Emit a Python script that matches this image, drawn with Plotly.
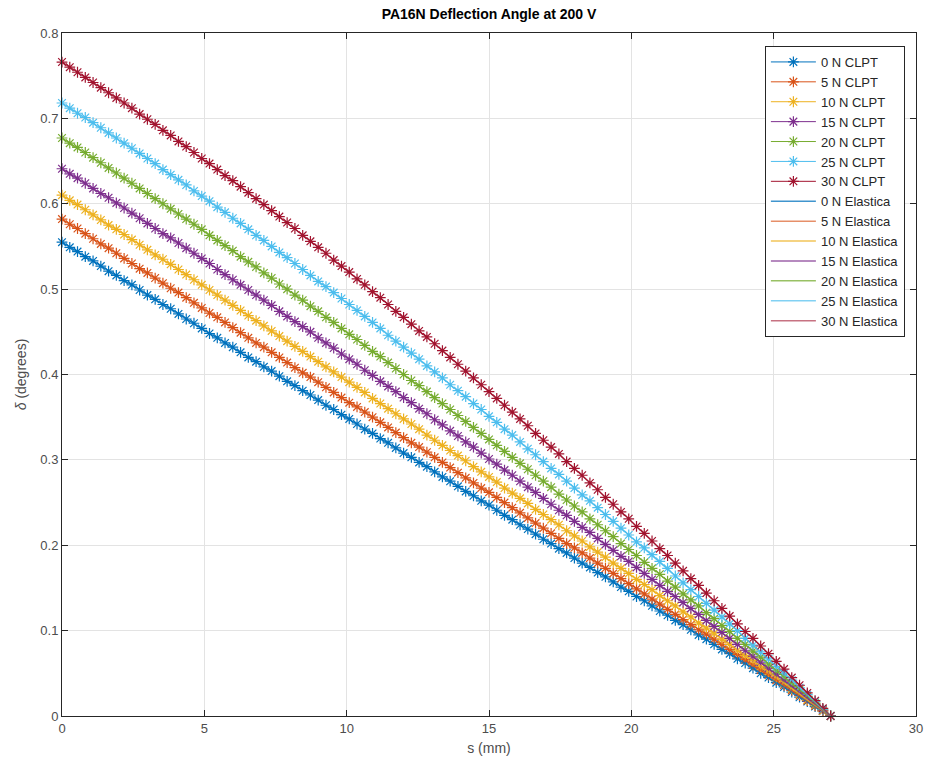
import plotly.graph_objects as go

# Arc-length positions of the plotted points (mm)
s_mm = [
    0.0, 0.273, 0.545, 0.818, 1.091, 1.364, 1.636, 1.909, 2.182, 2.455,
    2.727, 3.0, 3.273, 3.545, 3.818, 4.091, 4.364, 4.636, 4.909, 5.182,
    5.455, 5.727, 6.0, 6.273, 6.545, 6.818, 7.091, 7.364, 7.636, 7.909,
    8.182, 8.455, 8.727, 9.0, 9.273, 9.545, 9.818, 10.091, 10.364, 10.636,
    10.909, 11.182, 11.455, 11.727, 12.0, 12.273, 12.545, 12.818, 13.091, 13.364,
    13.636, 13.909, 14.182, 14.455, 14.727, 15.0, 15.273, 15.545, 15.818, 16.091,
    16.364, 16.636, 16.909, 17.182, 17.455, 17.727, 18.0, 18.273, 18.545, 18.818,
    19.091, 19.364, 19.636, 19.909, 20.182, 20.455, 20.727, 21.0, 21.273, 21.545,
    21.818, 22.091, 22.364, 22.636, 22.909, 23.182, 23.455, 23.727, 24.0, 24.273,
    24.545, 24.818, 25.091, 25.364, 25.636, 25.909, 26.182, 26.455, 26.727, 27.0,
]

load_labels = ["0 N", "5 N", "10 N", "15 N", "20 N", "25 N", "30 N"]

delta_0N = [
    0.555, 0.549, 0.544, 0.538, 0.533, 0.527, 0.521, 0.516, 0.510, 0.505,
    0.499, 0.493, 0.488, 0.482, 0.477, 0.471, 0.465, 0.460, 0.454, 0.448,
    0.443, 0.437, 0.432, 0.426, 0.420, 0.415, 0.409, 0.404, 0.398, 0.392,
    0.387, 0.381, 0.376, 0.370, 0.364, 0.359, 0.353, 0.348, 0.342, 0.336,
    0.331, 0.325, 0.320, 0.314, 0.308, 0.303, 0.297, 0.292, 0.286, 0.280,
    0.275, 0.269, 0.263, 0.258, 0.252, 0.247, 0.241, 0.235, 0.230, 0.224,
    0.219, 0.213, 0.207, 0.202, 0.196, 0.191, 0.185, 0.179, 0.174, 0.168,
    0.163, 0.157, 0.151, 0.146, 0.140, 0.135, 0.129, 0.123, 0.118, 0.112,
    0.107, 0.101, 0.095, 0.090, 0.084, 0.078, 0.073, 0.067, 0.062, 0.056,
    0.050, 0.045, 0.039, 0.034, 0.028, 0.022, 0.017, 0.011, 0.006, 0.0,
]
delta_5N = [
    0.582, 0.576, 0.571, 0.565, 0.559, 0.553, 0.548, 0.542, 0.536, 0.530,
    0.524, 0.519, 0.513, 0.507, 0.501, 0.496, 0.490, 0.484, 0.478, 0.472,
    0.467, 0.461, 0.455, 0.449, 0.443, 0.437, 0.432, 0.426, 0.420, 0.414,
    0.408, 0.402, 0.397, 0.391, 0.385, 0.379, 0.373, 0.367, 0.362, 0.356,
    0.350, 0.344, 0.338, 0.332, 0.326, 0.320, 0.315, 0.309, 0.303, 0.297,
    0.291, 0.285, 0.279, 0.273, 0.267, 0.262, 0.256, 0.250, 0.244, 0.238,
    0.232, 0.226, 0.220, 0.214, 0.208, 0.202, 0.197, 0.191, 0.185, 0.179,
    0.173, 0.167, 0.161, 0.155, 0.149, 0.143, 0.137, 0.131, 0.125, 0.119,
    0.113, 0.107, 0.101, 0.096, 0.090, 0.084, 0.078, 0.072, 0.066, 0.060,
    0.054, 0.048, 0.042, 0.036, 0.030, 0.024, 0.018, 0.012, 0.006, 0.0,
]
delta_10N = [
    0.610, 0.604, 0.599, 0.593, 0.587, 0.581, 0.575, 0.570, 0.564, 0.558,
    0.552, 0.546, 0.540, 0.535, 0.529, 0.523, 0.517, 0.511, 0.505, 0.499,
    0.493, 0.487, 0.481, 0.475, 0.469, 0.463, 0.457, 0.451, 0.445, 0.439,
    0.433, 0.427, 0.421, 0.415, 0.409, 0.403, 0.397, 0.391, 0.385, 0.379,
    0.372, 0.366, 0.360, 0.354, 0.348, 0.342, 0.336, 0.329, 0.323, 0.317,
    0.311, 0.305, 0.299, 0.292, 0.286, 0.280, 0.274, 0.267, 0.261, 0.255,
    0.249, 0.242, 0.236, 0.230, 0.224, 0.217, 0.211, 0.205, 0.198, 0.192,
    0.186, 0.179, 0.173, 0.167, 0.160, 0.154, 0.148, 0.141, 0.135, 0.129,
    0.122, 0.116, 0.109, 0.103, 0.097, 0.090, 0.084, 0.077, 0.071, 0.065,
    0.058, 0.052, 0.045, 0.039, 0.032, 0.026, 0.019, 0.013, 0.006, 0.0,
]
delta_15N = [
    0.641, 0.635, 0.630, 0.624, 0.618, 0.612, 0.607, 0.601, 0.595, 0.589,
    0.583, 0.577, 0.571, 0.565, 0.560, 0.554, 0.548, 0.542, 0.536, 0.530,
    0.523, 0.517, 0.511, 0.505, 0.499, 0.493, 0.487, 0.481, 0.474, 0.468,
    0.462, 0.456, 0.450, 0.443, 0.437, 0.431, 0.424, 0.418, 0.412, 0.405,
    0.399, 0.392, 0.386, 0.380, 0.373, 0.367, 0.360, 0.354, 0.347, 0.341,
    0.334, 0.328, 0.321, 0.315, 0.308, 0.301, 0.295, 0.288, 0.282, 0.275,
    0.268, 0.262, 0.255, 0.248, 0.241, 0.235, 0.228, 0.221, 0.215, 0.208,
    0.201, 0.194, 0.187, 0.181, 0.174, 0.167, 0.160, 0.153, 0.146, 0.140,
    0.133, 0.126, 0.119, 0.112, 0.105, 0.098, 0.091, 0.084, 0.077, 0.070,
    0.063, 0.056, 0.049, 0.042, 0.035, 0.028, 0.021, 0.014, 0.007, 0.0,
]
delta_20N = [
    0.677, 0.671, 0.666, 0.660, 0.654, 0.648, 0.642, 0.636, 0.630, 0.624,
    0.618, 0.612, 0.606, 0.600, 0.594, 0.588, 0.582, 0.576, 0.570, 0.563,
    0.557, 0.551, 0.545, 0.538, 0.532, 0.526, 0.519, 0.513, 0.506, 0.500,
    0.493, 0.487, 0.480, 0.474, 0.467, 0.461, 0.454, 0.447, 0.441, 0.434,
    0.427, 0.421, 0.414, 0.407, 0.400, 0.393, 0.387, 0.380, 0.373, 0.366,
    0.359, 0.352, 0.345, 0.338, 0.331, 0.324, 0.317, 0.310, 0.303, 0.296,
    0.289, 0.282, 0.275, 0.268, 0.260, 0.253, 0.246, 0.239, 0.231, 0.224,
    0.217, 0.210, 0.202, 0.195, 0.188, 0.180, 0.173, 0.166, 0.158, 0.151,
    0.143, 0.136, 0.129, 0.121, 0.114, 0.106, 0.099, 0.091, 0.084, 0.076,
    0.069, 0.061, 0.053, 0.046, 0.038, 0.031, 0.023, 0.015, 0.008, 0.0,
]
delta_25N = [
    0.718, 0.712, 0.706, 0.701, 0.695, 0.689, 0.683, 0.677, 0.671, 0.665,
    0.659, 0.653, 0.647, 0.640, 0.634, 0.628, 0.622, 0.615, 0.609, 0.603,
    0.596, 0.590, 0.583, 0.577, 0.570, 0.563, 0.557, 0.550, 0.543, 0.537,
    0.530, 0.523, 0.516, 0.509, 0.503, 0.496, 0.489, 0.482, 0.475, 0.468,
    0.461, 0.454, 0.446, 0.439, 0.432, 0.425, 0.418, 0.410, 0.403, 0.396,
    0.388, 0.381, 0.374, 0.366, 0.359, 0.351, 0.344, 0.336, 0.329, 0.321,
    0.313, 0.306, 0.298, 0.290, 0.283, 0.275, 0.267, 0.259, 0.252, 0.244,
    0.236, 0.228, 0.220, 0.212, 0.204, 0.197, 0.189, 0.181, 0.173, 0.164,
    0.156, 0.148, 0.140, 0.132, 0.124, 0.116, 0.108, 0.100, 0.091, 0.083,
    0.075, 0.067, 0.058, 0.050, 0.042, 0.033, 0.025, 0.017, 0.008, 0.0,
]
delta_30N = [
    0.766, 0.760, 0.754, 0.748, 0.742, 0.736, 0.730, 0.724, 0.718, 0.712,
    0.705, 0.699, 0.693, 0.686, 0.680, 0.673, 0.667, 0.660, 0.653, 0.647,
    0.640, 0.633, 0.627, 0.620, 0.613, 0.606, 0.599, 0.592, 0.585, 0.578,
    0.571, 0.563, 0.556, 0.549, 0.542, 0.534, 0.527, 0.520, 0.512, 0.505,
    0.497, 0.490, 0.482, 0.474, 0.467, 0.459, 0.451, 0.444, 0.436, 0.428,
    0.420, 0.412, 0.404, 0.396, 0.388, 0.380, 0.372, 0.364, 0.356, 0.348,
    0.340, 0.331, 0.323, 0.315, 0.307, 0.298, 0.290, 0.282, 0.273, 0.265,
    0.256, 0.248, 0.239, 0.231, 0.222, 0.214, 0.205, 0.196, 0.188, 0.179,
    0.170, 0.161, 0.153, 0.144, 0.135, 0.126, 0.117, 0.108, 0.099, 0.091,
    0.082, 0.073, 0.064, 0.055, 0.045, 0.036, 0.027, 0.018, 0.009, 0.0,
]

series = [delta_0N, delta_5N, delta_10N, delta_15N, delta_20N, delta_25N, delta_30N]

colors = ["#0072BD", "#D95319", "#EDB120", "#7E2F8E", "#77AC30", "#4DBEEE", "#A2142F"]
elastica_colors = [
    "rgba(0,114,189,0.75)", "rgba(217,83,25,0.65)", "rgba(237,177,32,0.75)",
    "rgba(126,47,142,0.75)", "rgba(119,172,48,0.75)", "rgba(77,190,238,0.7)",
    "rgba(162,20,47,0.6)",
]

FONT = "Liberation Sans, Arial, Helvetica, sans-serif"

fig = go.Figure()

for lab, vals, c in zip(load_labels, series, colors):
    fig.add_trace(go.Scatter(
        x=s_mm, y=vals, mode="lines+markers", name=f"{lab} CLPT",
        line=dict(color=c, width=1),
        marker=dict(symbol="asterisk-open", size=9, color=c, line=dict(color=c, width=1.2)),
        cliponaxis=False,
    ))

for lab, vals, c in zip(load_labels, series, elastica_colors):
    fig.add_trace(go.Scatter(
        x=s_mm, y=vals, mode="lines", name=f"{lab} Elastica",
        line=dict(color=c, width=1.5),
    ))

axis_common = dict(
    showline=True, linecolor="#262626", linewidth=1, mirror="ticks",
    ticks="inside", ticklen=6, tickcolor="#262626",
    showgrid=True, gridcolor="#e3e3e3", gridwidth=1, zeroline=False,
    tickfont=dict(family=FONT, size=13, color="#4d4d4d"),
    automargin=False,
)

fig.update_layout(
    width=927, height=770,
    margin=dict(l=62, r=11, t=33, b=54, autoexpand=False),
    paper_bgcolor="white", plot_bgcolor="white",
    font=dict(family=FONT, color="#262626"),
    title=dict(
        text="<b>PA16N Deflection Angle at 200 V</b>",
        x=0.5, xref="paper", xanchor="center",
        y=1 - 14 / 770, yref="container", yanchor="middle",
        font=dict(family=FONT, size=14, color="#000000"),
        automargin=False,
    ),
    xaxis=dict(
        range=[0, 30], tick0=0, dtick=5,
        title=dict(text="s (mm)", font=dict(family=FONT, size=14, color="#4d4d4d"), standoff=8),
        **axis_common,
    ),
    yaxis=dict(
        range=[0, 0.8], tick0=0, dtick=0.1,
        title=dict(text="<i>δ</i> (degrees)", font=dict(family=FONT, size=14, color="#4d4d4d"), standoff=10),
        **axis_common,
    ),
    legend=dict(
        x=0.987, xanchor="right", y=0.981, yanchor="top",
        bgcolor="white", bordercolor="#262626", borderwidth=1,
        font=dict(family=FONT, size=13, color="#262626"),
        tracegroupgap=0, itemwidth=45,
    ),
    showlegend=True,
)

fig.write_html(
    "out.html",
    config={"displayModeBar": False},
    post_script="document.body.style.margin='0';document.body.style.overflow='hidden';",
)
